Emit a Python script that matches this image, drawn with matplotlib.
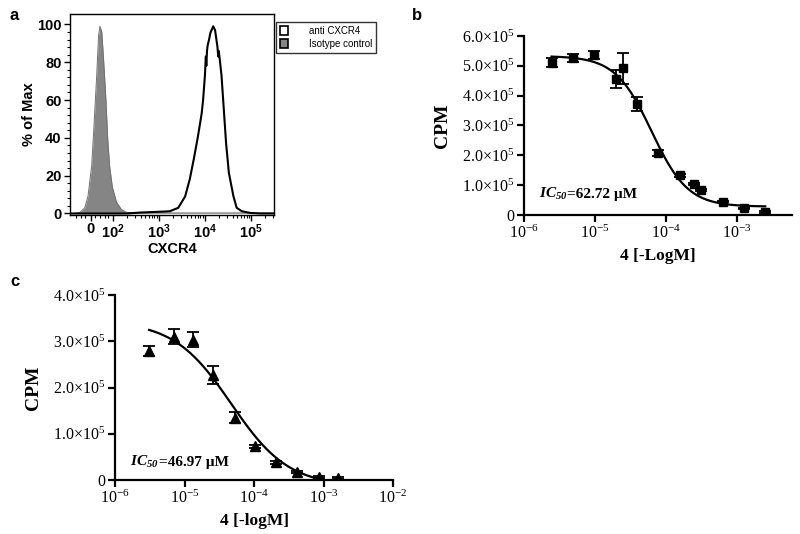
import numpy as np
import matplotlib.pyplot as plt
from matplotlib.patches import Patch
from matplotlib.ticker import FixedLocator

# italic bold for IC50 (digits in mathtext fall back to the rm font)
plt.rcParams['mathtext.fontset'] = 'custom'
plt.rcParams['mathtext.rm'] = 'Liberation Serif:italic:bold'
plt.rcParams['mathtext.it'] = 'Liberation Serif:italic:bold'
plt.rcParams['mathtext.bf'] = 'Liberation Serif:bold'

SANS = 'Liberation Sans'
SERIF = 'Liberation Serif'

# ---- panel a: flow cytometry histograms (x in biexponential axis units, 10^k at k)
iso_pos = [1.07, 1.14, 1.28, 1.39, 1.46, 1.54, 1.59, 1.65, 1.69, 1.72, 1.76, 1.80,
           1.85, 1.89, 1.93, 1.99, 2.08, 2.19, 2.30, 2.44, 3.0, 4.0, 5.0, 5.5]
iso_pct = [0, 0, 0.5, 3, 9, 25, 46, 73, 94, 99, 96, 81,
           60, 39, 25, 14, 6, 2, 0.6, 0.3, 0.3, 0.3, 0.3, 0.3]

anti_pos = [1.07, 2.3, 2.6, 2.9, 3.1, 3.24, 3.42, 3.57, 3.67, 3.76, 3.85, 3.93, 3.96,
            4.00, 4.02, 4.03, 4.045, 4.06, 4.09, 4.12, 4.18, 4.22, 4.27, 4.29, 4.30,
            4.32, 4.36, 4.41, 4.46, 4.52, 4.62, 4.69, 4.80, 4.98, 5.2, 5.5]
anti_pct = [0, 0, 0.5, 0.8, 1.0, 1.2, 3, 9, 18, 29, 41, 53, 60,
            73, 83, 78, 86, 89, 92, 95.6, 99, 97, 88.5, 83, 86,
            82, 73, 55, 37, 21.5, 9, 3, 1.2, 0.3, 0, 0]

a_tick_pos = [1.52, 2, 3, 4, 5]
a_tick_lab = ['0', r'$\mathregular{10^2}$', r'$\mathregular{10^3}$',
              r'$\mathregular{10^4}$', r'$\mathregular{10^5}$']

# ---- panel b: compound 4, squares
b_conc = [2.44e-6, 4.88e-6, 9.77e-6, 1.95e-5, 2.5e-5, 3.9e-5, 7.8e-5,
          1.56e-4, 2.5e-4, 3.1e-4, 6.3e-4, 1.26e-3, 2.5e-3]
b_cpm = [5.11e5, 5.26e5, 5.37e5, 4.55e5, 4.92e5, 3.72e5, 2.07e5,
         1.34e5, 1.04e5, 0.84e5, 0.45e5, 0.22e5, 0.11e5]
b_err = [0.15e5, 0.14e5, 0.13e5, 0.3e5, 0.52e5, 0.25e5, 0.1e5,
         0.05e5, 0.04e5, 0.04e5, 0.03e5, 0.03e5, 0.03e5]
b_top, b_bottom, b_ic50, b_hill = 5.33e5, 0.28e5, 62.72e-6, 1.7

# ---- panel c: compound 4, triangles
c_conc = [3.1e-6, 7.1e-6, 1.34e-5, 2.6e-5, 5.3e-5, 1.02e-4, 2.1e-4,
          4.2e-4, 8.5e-4, 1.6e-3]
c_cpm = [2.79e5, 3.10e5, 3.03e5, 2.27e5, 1.35e5, 0.73e5, 0.38e5,
         0.18e5, 0.07e5, 0.05e5]
c_err = [0.1e5, 0.17e5, 0.16e5, 0.19e5, 0.12e5, 0.03e5, 0.03e5,
         0.02e5, 0.02e5, 0.02e5]
c_top, c_bottom, c_ic50, c_hill = 3.44e5, -0.14e5, 46.97e-6, 1.05


def dose_response(x, top, bottom, ic50, hill):
    return bottom + (top - bottom) / (1 + (x / ic50) ** hill)


def pow_label(e):
    return r'$\mathregular{10^{%d}}$' % e


def cpm_label(v):
    if v == 0:
        return '0'
    return r'$\mathregular{%.1f×10^{5}}$' % (v / 1e5)


fig = plt.figure(figsize=(8, 5.34), dpi=100)

# panel a
ax1 = fig.add_axes([70 / 800, 1 - 215 / 534, 204 / 800, 201 / 534])
ax1.fill_between(iso_pos, iso_pct, 0, color='#858585', lw=0)
ax1.plot(iso_pos, iso_pct, color='#707070', lw=0.7)
ax1.plot(anti_pos, anti_pct, color='black', lw=1.5)
ax1.set_xlim(1.07, 5.5)
ax1.set_ylim(-0.8, 105.5)
ax1.set_xticks(a_tick_pos)
ax1.set_xticklabels(a_tick_lab)
minor = [d + np.log10(k) for d in (2, 3, 4, 5) for k in range(2, 10) if d + np.log10(k) < 5.5]
minor += [1.2, 1.3, 1.4, 1.62, 1.72, 1.82, 1.9]
ax1.xaxis.set_minor_locator(FixedLocator(minor))
ax1.set_yticks(range(0, 101, 20))
ax1.yaxis.set_minor_locator(FixedLocator(range(0, 104, 4)))
ax1.tick_params(which='major', length=4, width=1, direction='out', pad=2)
ax1.tick_params(which='minor', length=2, width=0.8, direction='out')
for lab in ax1.get_xticklabels() + ax1.get_yticklabels():
    lab.set_fontfamily(SANS)
    lab.set_fontweight('bold')
    lab.set_fontsize(10.5)
ax1.tick_params(axis='x', pad=1)
for s in ax1.spines.values():
    s.set_linewidth(1)
ax1.set_ylabel('% of Max', fontfamily=SANS, fontweight='bold', fontsize=10.5, labelpad=1)
ax1.set_xlabel('CXCR4', fontfamily=SANS, fontweight='bold', fontsize=10.5, labelpad=1)

handles = [Patch(facecolor='white', edgecolor='black', lw=1.2),
           Patch(facecolor='#858585', edgecolor='black', lw=1.2)]
leg = fig.legend(handles, ['anti CXCR4', 'Isotype control'], loc='upper left',
                 bbox_to_anchor=(276 / 800, 1 - 22 / 534), frameon=True, fancybox=False,
                 edgecolor='black', prop={'family': SANS, 'size': 7}, handlelength=0.8,
                 handleheight=1.0, handletextpad=2.2, borderpad=0.4, labelspacing=0.3,
                 borderaxespad=0)
leg.get_frame().set_linewidth(1)


def style_dose_axes(ax, xlim, xexp, yticks):
    ax.set_xscale('log')
    ax.set_xlim(*xlim)
    ax.set_ylim(0, yticks[-1])
    ax.set_xticks([10.0 ** e for e in xexp])
    ax.set_xticklabels([pow_label(e) for e in xexp])
    ax.xaxis.set_minor_locator(FixedLocator([]))
    ax.set_yticks(yticks)
    ax.set_yticklabels([cpm_label(v) for v in yticks])
    for side in ('top', 'right'):
        ax.spines[side].set_visible(False)
    for side in ('left', 'bottom'):
        ax.spines[side].set_linewidth(1.6)
    ax.tick_params(length=5, width=1.6, direction='out', pad=2)
    for lab in ax.get_xticklabels() + ax.get_yticklabels():
        lab.set_fontfamily(SERIF)
        lab.set_fontsize(11.5)
    ax.set_ylabel('CPM', fontfamily=SERIF, fontweight='bold', fontsize=14, labelpad=8)


def ic50_text(ax, x, y, value):
    # italic "IC50" followed by upright bold "=... µM", no spacing around "="
    t1 = ax.text(x, y, r'$\mathit{IC_{50}}$', transform=ax.transAxes,
                 fontsize=11, va='baseline')
    fig.canvas.draw()
    bb = t1.get_window_extent()
    x1 = ax.transAxes.inverted().transform((bb.x1, bb.y0))[0]
    ax.text(x1, y, '=%s µM' % value, transform=ax.transAxes, fontfamily=SERIF,
            fontweight='bold', fontsize=11, va='baseline')


# panel b
ax2 = fig.add_axes([524 / 800, 1 - 215 / 534, 268 / 800, 179 / 534])
xb = np.logspace(np.log10(b_conc[0]), np.log10(b_conc[-1]), 300)
ax2.plot(xb, dose_response(xb, b_top, b_bottom, b_ic50, b_hill), color='black', lw=1.6)
ax2.errorbar(b_conc, b_cpm, yerr=b_err, fmt='s', color='black', ms=6, elinewidth=1.3,
             capsize=4, capthick=1.3)
style_dose_axes(ax2, (1e-6, 10 ** -2.225), [-6, -5, -4, -3], [0, 1e5, 2e5, 3e5, 4e5, 5e5, 6e5])
ax2.set_xlabel('4 [-LogM]', fontfamily=SERIF, fontweight='bold', fontsize=12.5, labelpad=4)

# panel c
ax3 = fig.add_axes([115 / 800, 1 - 480 / 534, 278 / 800, 185 / 534])
xc = np.logspace(np.log10(c_conc[0]), np.log10(c_conc[-1]), 300)
ax3.plot(xc, dose_response(xc, c_top, c_bottom, c_ic50, c_hill), color='black', lw=1.6)
ax3.errorbar(c_conc, c_cpm, yerr=c_err, fmt='^', color='black', ms=6.5, elinewidth=1.3,
             capsize=4, capthick=1.3)
style_dose_axes(ax3, (1e-6, 1e-2), [-6, -5, -4, -3, -2], [0, 1e5, 2e5, 3e5, 4e5])
ax3.set_xlabel('4 [-logM]', fontfamily=SERIF, fontweight='bold', fontsize=12.5, labelpad=4)

ic50_text(ax2, 0.055, 0.095, '62.72')
ic50_text(ax3, 0.055, 0.075, '46.97')

# panel letters
for lx, ly, letter in [(10, 16, 'a'), (412, 15, 'b'), (10, 282, 'c')]:
    fig.text(lx / 800, 1 - ly / 534, letter, fontfamily=SANS, fontweight='bold',
             fontsize=12, va='center', ha='left')

fig.savefig('out.png', dpi=100)
